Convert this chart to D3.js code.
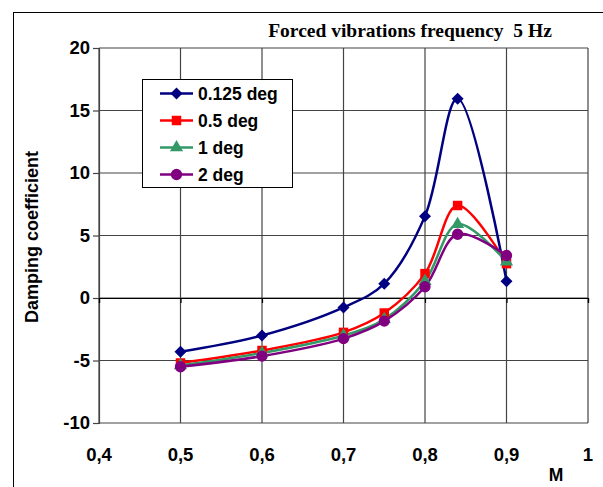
<!DOCTYPE html>
<html><head><meta charset="utf-8">
<script src="https://cdn.jsdelivr.net/npm/d3@7"></script>
<style>body{margin:0;background:#fff}svg{display:block}</style>
</head><body>
<svg id="c" width="603" height="487"></svg>
<script>
const machNumbers = [0.5, 0.6, 0.7, 0.75, 0.8, 0.84, 0.9];
const seriesNames = ["0.125 deg", "0.5 deg", "1 deg", "2 deg"];
const damp0125 = [-4.3, -3.0, -0.75, 1.15, 6.55, 15.95, 1.35];
const damp05   = [-5.2, -4.2, -2.75, -1.2, 1.95, 7.4, 2.75];
const damp1    = [-5.4, -4.4, -3.0, -1.7, 1.35, 5.9, 2.9];
const damp2    = [-5.5, -4.65, -3.25, -1.85, 0.9, 5.1, 3.4];
const xTicks = [0.4, 0.5, 0.6, 0.7, 0.8, 0.9, 1.0];
const yTicks = [-10, -5, 0, 5, 10, 15, 20];
const colors = ["#000080", "#FF0000", "#339966", "#800080"];
const squareDiamond = {
  draw(ctx, size) {
    const r = Math.sqrt(size / 2);
    ctx.moveTo(0, -r); ctx.lineTo(r, 0); ctx.lineTo(0, r); ctx.lineTo(-r, 0); ctx.closePath();
  }
};
const shapes = [squareDiamond, d3.symbolSquare, d3.symbolTriangle, d3.symbolCircle];
const symSizes = [72, 90, 75, 100];
const allSeries = [damp0125, damp05, damp1, damp2];

const FONT = "Arial, 'Liberation Sans', sans-serif";
const svg = d3.select("#c");
const x = d3.scaleLinear().domain([0.4, 1.0]).range([99, 588]);
const y = d3.scaleLinear().domain([-10, 20]).range([423, 48]);

svg.append("rect").attr("x", 13.5).attr("y", 12.5).attr("width", 620).attr("height", 500)
  .attr("fill", "none").attr("stroke", "#000").attr("stroke-width", 1);

const g = svg.append("g");
g.selectAll(".hg").data(yTicks).join("line")
  .attr("x1", x(0.4)).attr("x2", x(1.0)).attr("y1", d => y(d)).attr("y2", d => y(d))
  .attr("stroke", "#444").attr("stroke-width", 1.2);
g.selectAll(".vg").data(xTicks).join("line")
  .attr("y1", y(-10)).attr("y2", y(20)).attr("x1", d => x(d)).attr("x2", d => x(d))
  .attr("stroke", "#444").attr("stroke-width", 1.2);

const yAxis = d3.axisLeft(y).tickValues(yTicks).tickSize(6).tickPadding(3).tickFormat(d => String(d));
const ya = svg.append("g").attr("transform", `translate(${x(0.4)},0)`).call(yAxis);
ya.select(".domain").attr("stroke", "#444").attr("stroke-width", 1.2);
ya.selectAll(".tick line").attr("stroke", "#444").attr("stroke-width", 1.2);
ya.selectAll("text").attr("font-family", FONT)
  .attr("font-weight", "bold").attr("font-size", 18.5).attr("fill", "#000");

const xAxis = d3.axisBottom(x).tickValues(xTicks).tickSize(5).tickFormat("");
const xa = svg.append("g").attr("transform", `translate(0,${y(0)})`).call(xAxis);
xa.select(".domain").attr("stroke", "#000").attr("stroke-width", 1.2);
xa.selectAll(".tick line").attr("stroke", "#000").attr("stroke-width", 1.2);

const fmtComma = d => d === 1 ? "1" : d3.format(".1f")(d).replace(".", ",");
svg.append("g").selectAll("text").data(xTicks).join("text")
  .attr("x", d => x(d)).attr("y", 461).attr("text-anchor", "middle")
  .attr("font-family", FONT).attr("font-weight", "bold")
  .attr("font-size", 18.5).text(fmtComma);

svg.append("text").attr("x", 556).attr("y", 481).attr("text-anchor", "middle")
  .attr("font-family", FONT).attr("font-weight", "bold")
  .attr("font-size", 17.5).text("M");
svg.append("text").attr("transform", "translate(38,237) rotate(-90)").attr("text-anchor", "middle")
  .attr("font-family", FONT).attr("font-weight", "bold")
  .attr("font-size", 18).text("Damping coefficient");
svg.append("text").attr("x", 410).attr("y", 37).attr("text-anchor", "middle")
  .attr("font-family", "'Times New Roman', 'Liberation Serif', serif").attr("font-weight", "bold")
  .attr("font-size", 19.5).style("white-space", "pre")
  .text("Forced vibrations frequency  5 Hz");

const line = d3.line().x(d => x(d[0])).y(d => y(d[1])).curve(d3.curveCatmullRom.alpha(0.5));
allSeries.forEach((vals, i) => {
  const pts = machNumbers.map((m, j) => [m, vals[j]]);
  svg.append("path").datum(pts).attr("d", line).attr("fill", "none")
    .attr("stroke", colors[i]).attr("stroke-width", 2.5);
});
allSeries.forEach((vals, i) => {
  const pts = machNumbers.map((m, j) => [m, vals[j]]);
  svg.append("g").selectAll("path").data(pts).join("path")
    .attr("transform", d => `translate(${x(d[0])},${y(d[1])})`)
    .attr("d", d3.symbol().type(shapes[i]).size(symSizes[i]))
    .attr("fill", colors[i]);
});

const lg = svg.append("g");
lg.append("rect").attr("x", 142.5).attr("y", 79.5).attr("width", 150).attr("height", 108)
  .attr("fill", "#fff").attr("stroke", "#000").attr("stroke-width", 1);
seriesNames.forEach((name, i) => {
  const yy = 93.5 + i * 27;
  lg.append("line").attr("x1", 160).attr("x2", 193).attr("y1", yy).attr("y2", yy)
    .attr("stroke", colors[i]).attr("stroke-width", 2.5);
  lg.append("path").attr("transform", `translate(176.5,${yy})`)
    .attr("d", d3.symbol().type(shapes[i]).size(symSizes[i])).attr("fill", colors[i]);
  lg.append("text").attr("x", 198).attr("y", yy + 6.5).attr("font-family", FONT)
    .attr("font-weight", "bold").attr("font-size", 17.5).text(name);
});
</script>
</body></html>
